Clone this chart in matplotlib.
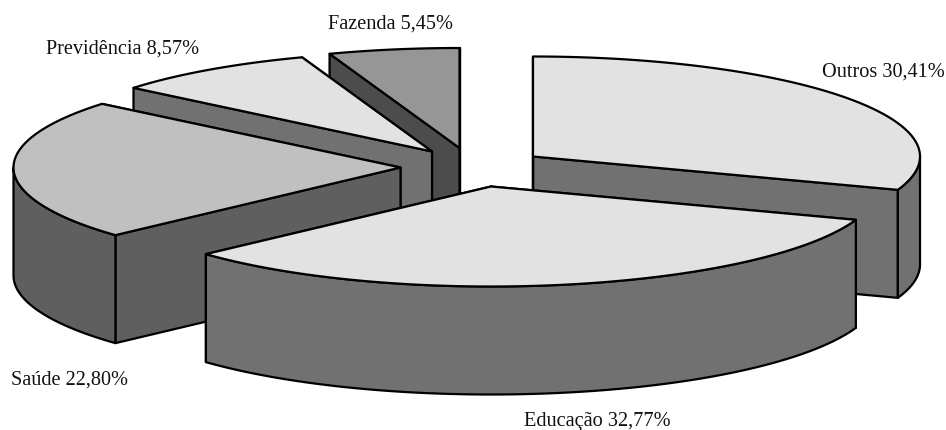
import numpy as np
import matplotlib
matplotlib.use("Agg")
import matplotlib.pyplot as plt
from matplotlib.patches import Polygon

categories = ["Outros", "Educação", "Saúde", "Previdência", "Fazenda"]
shares = [30.41, 32.77, 22.80, 8.57, 5.45]
share_labels = ["30,41%", "32,77%", "22,80%", "8,57%", "5,45%"]

top_colors = ["#E2E2E2", "#E2E2E2", "#C0C0C0", "#E2E2E2", "#969696"]
side_colors = ["#717171", "#717171", "#5F5F5F", "#717171", "#4C4C4C"]
apex_x = [533, 491, 400.5, 432, 459.5]
apex_y = [156.5, 186.5, 167.5, 151.5, 148]
label_x = [822, 524, 10.5, 46, 327.5]
label_y = [70, 419, 378, 47, 22]
draw_order = [4, 3, 2, 0, 1]

RX, RY, DEPTH = 387, 100, 108

fig = plt.figure(figsize=(9.46, 4.30), dpi=100)
ax = fig.add_axes([0, 0, 1, 1])
ax.set_xlim(0, 946)
ax.set_ylim(430, 0)
ax.axis("off")

edges = np.concatenate([[0], np.cumsum(shares)]) / np.sum(shares) * 2 * np.pi


def rim(t, cx, cy, dz=0):
    return np.column_stack([cx + RX * np.sin(t), cy - RY * np.cos(t) + dz])


def add(points, color, z):
    ax.add_patch(Polygon(points, closed=True, facecolor=color, edgecolor="black",
                         linewidth=1.6, joinstyle="round", zorder=z))


for z, i in enumerate(draw_order):
    t0, t1 = edges[i], edges[i + 1]
    cx, cy = apex_x[i], apex_y[i]
    base = z * 10
    apex = np.array([[cx, cy]])
    apex_low = np.array([[cx, cy + DEPTH]])
    # end cut, then start cut
    for n, t in enumerate((t1, t0)):
        tt = np.array([t])
        add(np.vstack([apex, rim(tt, cx, cy), rim(tt, cx, cy, DEPTH), apex_low]),
            side_colors[i], base + n)
    # outer wall: only the part of the rim facing the viewer
    a, b = max(t0, np.pi / 2), min(t1, 3 * np.pi / 2)
    if b > a:
        tw = np.linspace(a, b, 200)
        add(np.vstack([rim(tw, cx, cy), rim(tw[::-1], cx, cy, DEPTH)]), side_colors[i], base + 2)
    # top face
    tt = np.linspace(t0, t1, 300)
    add(np.vstack([apex, rim(tt, cx, cy)]), top_colors[i], base + 3)

for i, name in enumerate(categories):
    ax.text(label_x[i], label_y[i], f"{name} {share_labels[i]}", family="Liberation Serif",
            fontsize=14.6, color="#111111", ha="left", va="center_baseline", zorder=100)

fig.savefig("out.png", dpi=100)
